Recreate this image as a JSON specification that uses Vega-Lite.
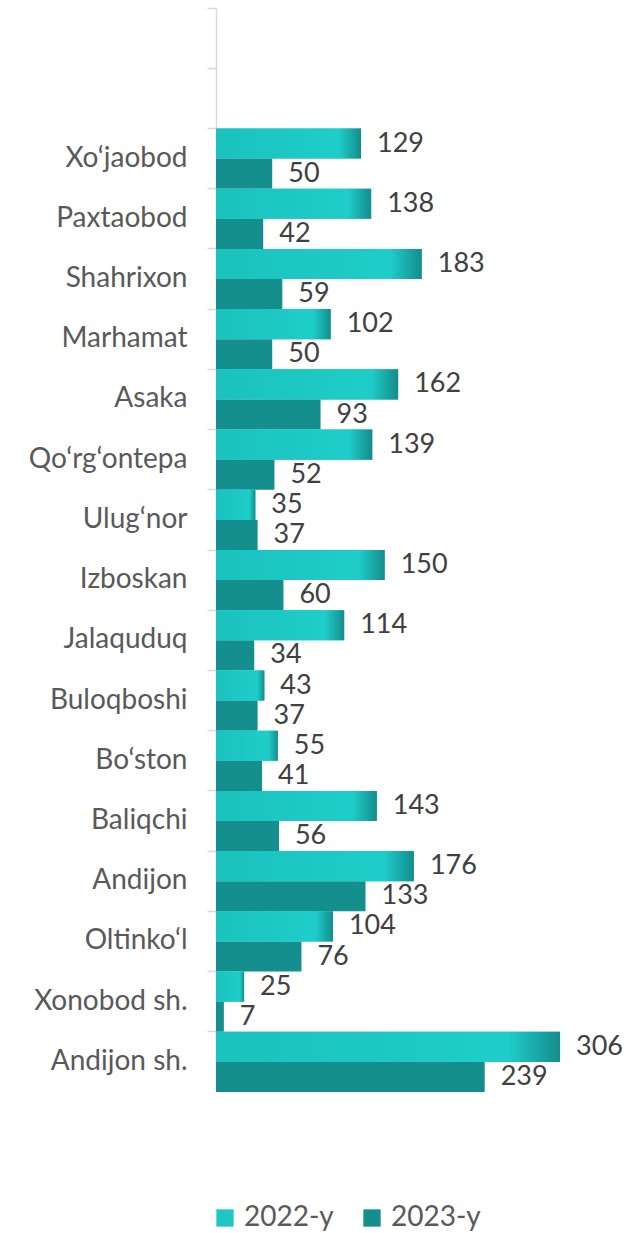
{
  "$schema": "https://vega.github.io/schema/vega-lite/v6.json",
  "width": 416,
  "height": 1084,
  "autosize": "none",
  "padding": {"left": 216, "top": 8, "right": 9, "bottom": 141},
  "background": "white",
  "config": {"view": {"stroke": null}, "font": "Lato"},
  "data": {"values": [
    {"district": "Xo‘jaobod", "series": "2022-y", "value": 129},
    {"district": "Xo‘jaobod", "series": "2023-y", "value": 50},
    {"district": "Paxtaobod", "series": "2022-y", "value": 138},
    {"district": "Paxtaobod", "series": "2023-y", "value": 42},
    {"district": "Shahrixon", "series": "2022-y", "value": 183},
    {"district": "Shahrixon", "series": "2023-y", "value": 59},
    {"district": "Marhamat", "series": "2022-y", "value": 102},
    {"district": "Marhamat", "series": "2023-y", "value": 50},
    {"district": "Asaka", "series": "2022-y", "value": 162},
    {"district": "Asaka", "series": "2023-y", "value": 93},
    {"district": "Qo‘rg‘ontepa", "series": "2022-y", "value": 139},
    {"district": "Qo‘rg‘ontepa", "series": "2023-y", "value": 52},
    {"district": "Ulug‘nor", "series": "2022-y", "value": 35},
    {"district": "Ulug‘nor", "series": "2023-y", "value": 37},
    {"district": "Izboskan", "series": "2022-y", "value": 150},
    {"district": "Izboskan", "series": "2023-y", "value": 60},
    {"district": "Jalaquduq", "series": "2022-y", "value": 114},
    {"district": "Jalaquduq", "series": "2023-y", "value": 34},
    {"district": "Buloqboshi", "series": "2022-y", "value": 43},
    {"district": "Buloqboshi", "series": "2023-y", "value": 37},
    {"district": "Bo‘ston", "series": "2022-y", "value": 55},
    {"district": "Bo‘ston", "series": "2023-y", "value": 41},
    {"district": "Baliqchi", "series": "2022-y", "value": 143},
    {"district": "Baliqchi", "series": "2023-y", "value": 56},
    {"district": "Andijon", "series": "2022-y", "value": 176},
    {"district": "Andijon", "series": "2023-y", "value": 133},
    {"district": "Oltinko‘l", "series": "2022-y", "value": 104},
    {"district": "Oltinko‘l", "series": "2023-y", "value": 76},
    {"district": "Xonobod sh.", "series": "2022-y", "value": 25},
    {"district": "Xonobod sh.", "series": "2023-y", "value": 7},
    {"district": "Andijon sh.", "series": "2022-y", "value": 306},
    {"district": "Andijon sh.", "series": "2023-y", "value": 239}
  ]},
  "encoding": {
    "y": {
      "field": "district",
      "type": "nominal",
      "sort": null,
      "scale": {
        "domain": [" ", "  ", "Xo‘jaobod", "Paxtaobod", "Shahrixon", "Marhamat", "Asaka", "Qo‘rg‘ontepa", "Ulug‘nor", "Izboskan", "Jalaquduq", "Buloqboshi", "Bo‘ston", "Baliqchi", "Andijon", "Oltinko‘l", "Xonobod sh.", "Andijon sh."],
        "paddingInner": 0,
        "paddingOuter": 0
      },
      "axis": {
        "title": null,
        "bandPosition": 0,
        "domainColor": "#D9D9D9",
        "domainWidth": 1.5,
        "tickColor": "#D9D9D9",
        "tickWidth": 1.5,
        "tickSize": 9,
        "labelFontSize": 28,
        "labelColor": "#595959",
        "labelPadding": 20,
        "labelBaseline": "middle",
        "labelLimit": 300
      }
    },
    "yOffset": {
      "field": "series",
      "type": "nominal",
      "scale": {"domain": ["2022-y", "2023-y"], "paddingInner": 0, "paddingOuter": 0}
    },
    "x": {
      "field": "value",
      "type": "quantitative",
      "scale": {"domain": [0, 370], "nice": false},
      "axis": null
    }
  },
  "layer": [
    {
      "mark": {"type": "bar"},
      "encoding": {
        "color": {
          "field": "series",
          "type": "nominal",
          "scale": {"domain": ["2022-y", "2023-y"], "range": ["#1DC8C4", "#158E8E"]},
          "legend": {
            "title": null,
            "orient": "none",
            "legendX": -5,
            "legendY": 1196,
            "direction": "horizontal",
            "symbolType": "square",
            "symbolSize": 300,
            "symbolStrokeWidth": 0,
            "labelFontSize": 28,
            "labelColor": "#595959",
            "labelOffset": 5,
            "columnPadding": 24
          }
        }
      }
    },
    {
      "transform": [{"filter": "datum.series === '2022-y'"}],
      "mark": {
        "type": "bar",
        "color": {
          "gradient": "linear",
          "x1": 0, "y1": 0, "x2": 1, "y2": 0,
          "stops": [
            {"offset": 0, "color": "#1BC2BE"},
            {"offset": 0.85, "color": "#1ECDC9"},
            {"offset": 1, "color": "#148C8C"}
          ]
        }
      }
    },
    {
      "mark": {"type": "text", "align": "left", "baseline": "middle", "dx": 16, "fontSize": 27, "color": "#404040"},
      "encoding": {"text": {"field": "value", "type": "quantitative"}}
    }
  ]
}
